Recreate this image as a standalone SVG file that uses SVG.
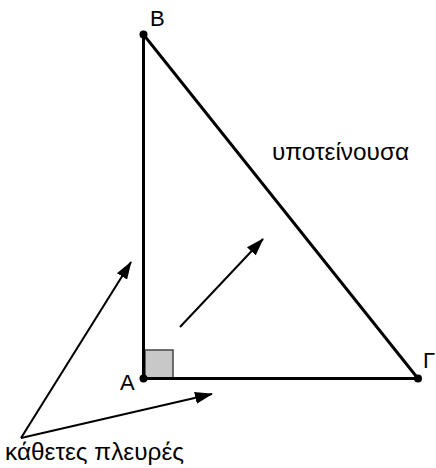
<svg xmlns="http://www.w3.org/2000/svg" width="436" height="468" viewBox="0 0 436 468">
<defs>
<style>
.side{stroke:#000;stroke-width:3;fill:none;stroke-linecap:round}
.arr{stroke:#000;stroke-width:2;fill:none}
.lbl{font-family:"Liberation Sans",Arial,sans-serif;font-size:22px;fill:#000}
.big{font-size:24px}
.dot{fill:#000}
</style>
<marker id="ah" markerUnits="userSpaceOnUse" markerWidth="18" markerHeight="14" viewBox="0 0 18 14" refX="17" refY="7" orient="auto">
<path d="M0,1 L18,7 L0,13 Z" fill="#000"/>
</marker>
</defs>
<rect width="436" height="468" fill="#fff"/>
<g id="triangle">
<rect x="145" y="350" width="28" height="29" fill="#c8c8c8" stroke="#444" stroke-width="1.5"/>
<path class="side" d="M143.5,34.5 L143.5,378.5 L418,378.5 Z"/>
</g>
<g id="vertexB"><circle class="dot" cx="143.5" cy="34.5" r="4"/><text class="lbl" x="150" y="26">B</text></g>
<g id="vertexA"><circle class="dot" cx="143.5" cy="378.5" r="4"/><text class="lbl" x="120" y="390">A</text></g>
<g id="vertexG"><circle class="dot" cx="418" cy="378.5" r="4"/><text class="lbl" x="423" y="368">Γ</text></g>
<g id="hypotenuse-label"><text class="lbl big" x="272" y="160" textLength="137" lengthAdjust="spacingAndGlyphs">υποτείνουσα</text></g>
<g id="legs-label"><text class="lbl big" x="5" y="460" textLength="179" lengthAdjust="spacingAndGlyphs">κάθετες πλευρές</text></g>
<g id="connectors">
<line class="arr" x1="21" y1="438" x2="131" y2="262" marker-end="url(#ah)"/>
<line class="arr" x1="21" y1="438" x2="212" y2="394" marker-end="url(#ah)"/>
<line class="arr" x1="180" y1="327" x2="263" y2="239" marker-end="url(#ah)"/>
</g>
</svg>
